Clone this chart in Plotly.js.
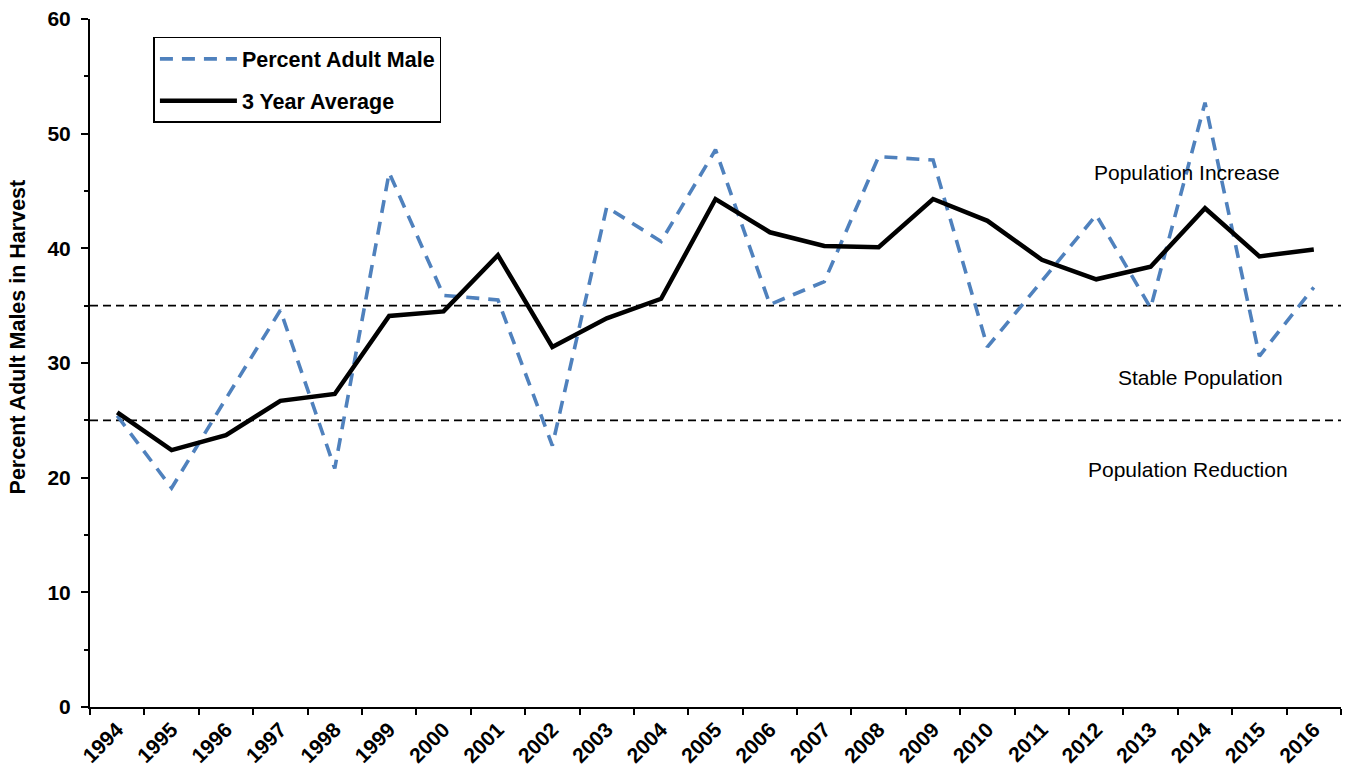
<!DOCTYPE html>
<html>
<head>
<meta charset="utf-8">
<script src="https://cdn.plot.ly/plotly-3.0.1.min.js"></script>
<style>
html,body{margin:0;padding:0;background:#fff;}
#chart{width:1372px;height:768px;}
</style>
</head>
<body>
<div id="chart"></div>
<script>
// Data
var years = ["1994","1995","1996","1997","1998","1999","2000","2001","2002","2003","2004","2005","2006","2007","2008","2009","2010","2011","2012","2013","2014","2015","2016"];
var percentAdultMale = [25.4,19.1,26.9,34.6,20.8,46.6,35.9,35.5,22.8,43.6,40.6,48.6,35.1,37.1,48.0,47.7,31.4,37.1,42.9,34.8,52.7,30.6,36.6];
var threeYearAverage = [25.7,22.4,23.7,26.7,27.3,34.1,34.5,39.4,31.4,33.9,35.6,44.3,41.4,40.2,40.1,44.3,42.4,39.0,37.3,38.4,43.5,39.3,39.9];
var thresholds = [35, 25];
var zoneLabels = ["Population Increase","Stable Population","Population Reduction"];
var zoneLabelY = [46.6, 28.7, 20.7];
var zoneLabelX = [0.877, 0.888, 0.878];
var yTickVals = [0,10,20,30,40,50,60];
var yTitle = "Percent Adult Males in Harvest";

var FONT = "Arial, 'Liberation Sans', sans-serif";

var traces = [
  {
    x: years, y: percentAdultMale, type: "scatter", mode: "lines",
    name: "<b>Percent Adult Male</b>", legendgroup: "a",
    line: {color: "#4F81BD", width: 3.6, dash: "13px,9px"}
  },
  {
    x: years, y: threeYearAverage, type: "scatter", mode: "lines",
    name: "<b>3 Year Average</b>", legendgroup: "b",
    line: {color: "#000000", width: 4.5}
  }
];

var shapes = thresholds.map(function(v){
  return {type: "line", xref: "paper", yref: "y", x0: 0, x1: 1, y0: v, y1: v,
          line: {color: "#000", width: 1.6, dash: "8px,5px"}, layer: "below"};
});

var annotations = zoneLabels.map(function(t, i){
  return {text: t, xref: "paper", yref: "y", x: zoneLabelX[i], y: zoneLabelY[i],
          showarrow: false, xanchor: "center", yanchor: "middle",
          font: {family: FONT, size: 21, color: "#000"}};
});
annotations.push({
  text: "<b>" + yTitle + "</b>", xref: "paper", yref: "paper",
  x: -0.0579, y: 0.538, textangle: -90, showarrow: false,
  xanchor: "center", yanchor: "middle",
  font: {family: FONT, size: 21.5, color: "#000"}
});

var layout = {
  width: 1372, height: 768,
  margin: {l: 89.5, r: 31, t: 19, b: 61, pad: 0},
  paper_bgcolor: "#fff", plot_bgcolor: "#fff",
  font: {family: FONT, color: "#000"},
  showlegend: true,
  legend: {
    x: 0.0507, y: 0.974, xanchor: "left", yanchor: "top",
    bgcolor: "#fff", bordercolor: "#000", borderwidth: 1.5,
    font: {family: FONT, size: 21.5, color: "#000"},
    traceorder: "grouped", tracegroupgap: 11, itemwidth: 77
  },
  xaxis: {
    type: "category", range: [-0.5, 22.5],
    showline: true, linecolor: "#000", linewidth: 2,
    showgrid: false, zeroline: false,
    ticks: "outside", tickson: "boundaries", ticklen: 6, tickwidth: 2, tickcolor: "#000",
    tickangle: -45,
    tickfont: {family: FONT, size: 21, color: "#000", weight: "bold"}
  },
  yaxis: {
    range: [0, 60], tickvals: yTickVals,
    showline: true, linecolor: "#000", linewidth: 2,
    showgrid: false, zeroline: false,
    ticks: "outside", ticklen: 7, tickwidth: 2, tickcolor: "#000",
    minor: {dtick: 5, ticks: "outside", ticklen: 4, tickwidth: 2, tickcolor: "#000", showgrid: false},
    ticklabelstandoff: 6,
    tickfont: {family: FONT, size: 21, color: "#000", weight: "bold"}
  },
  shapes: shapes,
  annotations: annotations
};

Plotly.newPlot("chart", traces, layout, {displayModeBar: false, staticPlot: true});
</script>
</body>
</html>
